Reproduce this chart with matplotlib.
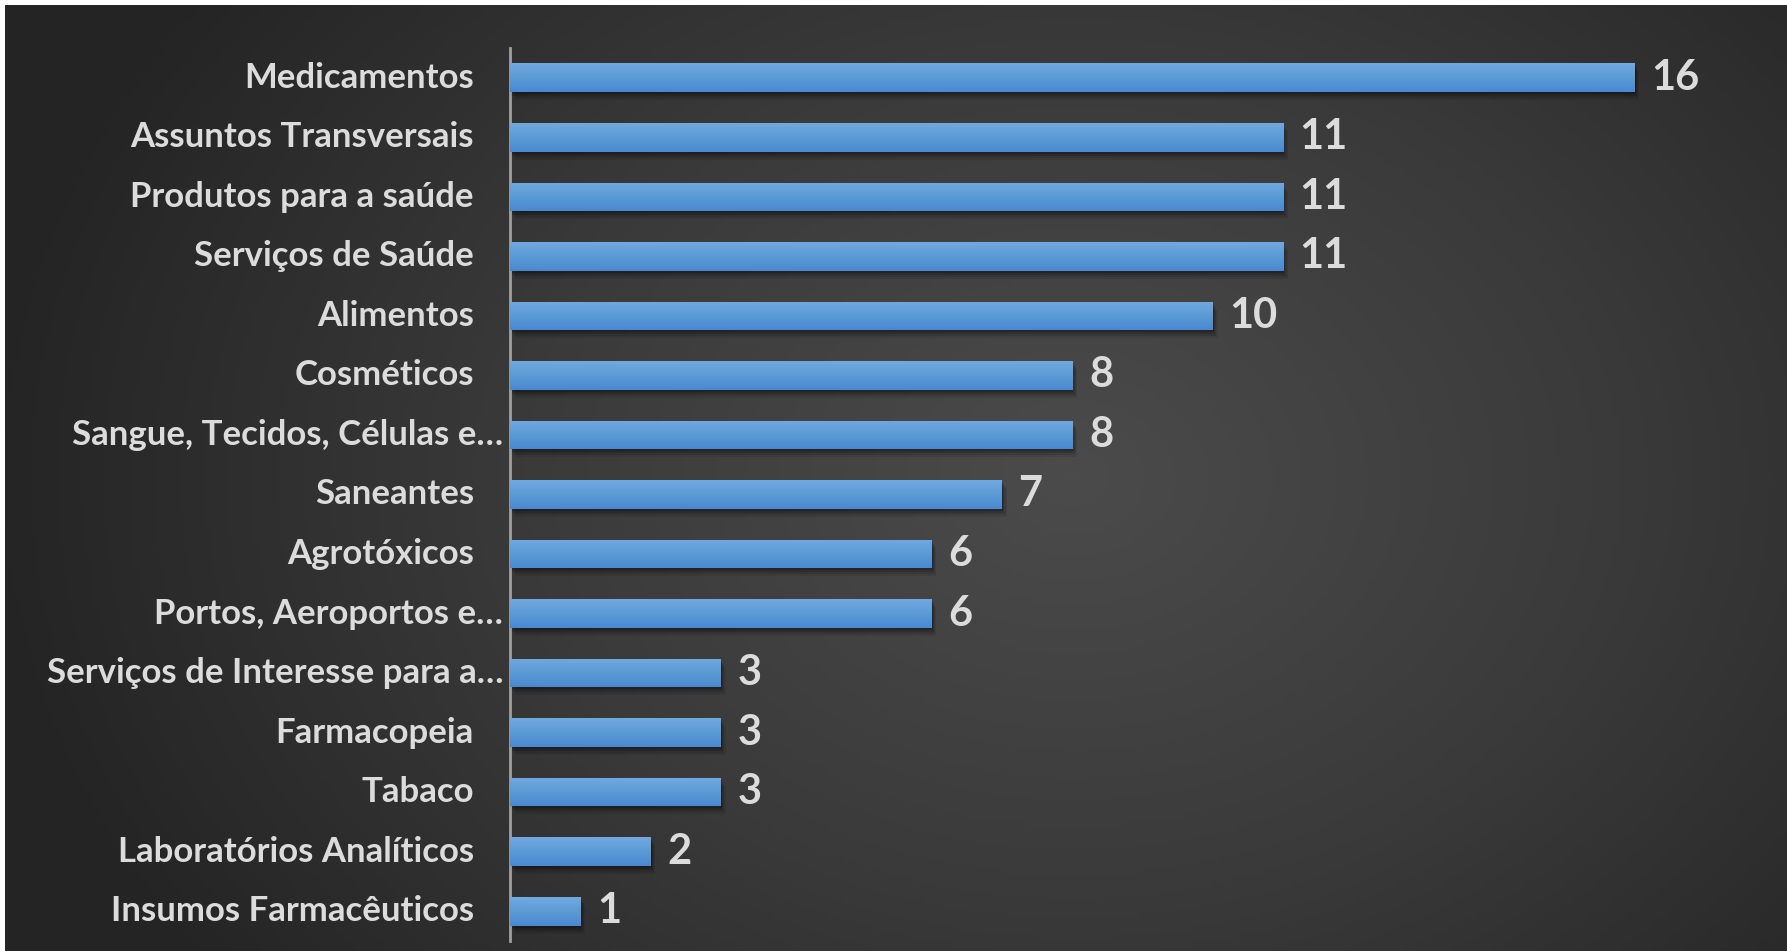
import numpy as np
import matplotlib
matplotlib.use("Agg")
import matplotlib.pyplot as plt
from matplotlib import transforms
from matplotlib.colors import LinearSegmentedColormap

plt.rcParams['font.family'] = ['Lato', 'DejaVu Sans']

categories = [
    "Medicamentos",
    "Assuntos Transversais",
    "Produtos para a saúde",
    "Serviços de Saúde",
    "Alimentos",
    "Cosméticos",
    "Sangue, Tecidos, Células e…",
    "Saneantes",
    "Agrotóxicos",
    "Portos, Aeroportos e…",
    "Serviços de Interesse para a…",
    "Farmacopeia",
    "Tabaco",
    "Laboratórios Analíticos",
    "Insumos Farmacêuticos",
]
values = [16, 11, 11, 11, 10, 8, 8, 7, 6, 6, 3, 3, 3, 2, 1]

W, H = 1787, 951
fig = plt.figure(figsize=(W / 100, H / 100), dpi=100, facecolor="white")

# dark radial background
bg = fig.add_axes([5 / W, 0, 1 - 5 / W, 1 - 5 / H])
bg.set_axis_off()
gx, gy = np.meshgrid(np.linspace(0, 1, 400), np.linspace(0, 1, 220))
d = np.sqrt(((gx - 0.6) * 1.3) ** 2 + ((gy - 0.5) * 0.9) ** 2)
d = np.clip(d / 0.8, 0, 1)
bg_cmap = LinearSegmentedColormap.from_list("bg", ["#4b4b4b", "#3a3a3a", "#242424"])
bg.imshow(d, cmap=bg_cmap, aspect="auto", extent=(0, 1, 0, 1), origin="lower")
bg.set_xlim(0, 1)
bg.set_ylim(0, 1)

ax = fig.add_axes([510 / W, 10 / H, (1775 - 510) / W, (941 - 48) / H])
ax.patch.set_alpha(0)
y = np.arange(len(categories))

# soft shadow under the bars
for k, a in [(8, 0.08), (6, 0.10), (4, 0.14), (2, 0.18)]:
    off = transforms.offset_copy(ax.transData, fig=fig, x=k * 0.6, y=-k, units="dots")
    ax.barh(y, values, height=0.48, color="black", alpha=a, transform=off, zorder=1)

bars = ax.barh(y, values, height=0.48, color="#5b9bd5", zorder=2)

bar_cmap = LinearSegmentedColormap.from_list("bar", ["#4a89d2", "#5b9bd5", "#72a9e0"])
grad = np.linspace(0, 1, 64).reshape(-1, 1)
for b in bars:
    x0, y0 = b.get_x(), b.get_y()
    im = ax.imshow(grad, cmap=bar_cmap, aspect="auto", origin="lower",
                   extent=(x0, x0 + b.get_width(), y0 + b.get_height(), y0), zorder=3)
    im.set_clip_path(b)

ax.bar_label(bars, labels=[str(v) for v in values], padding=12,
             color="#dcdcdc", fontsize=30, fontweight="bold", zorder=4)

ax.set_xlim(0, 18)
ax.set_ylim(len(categories) - 0.5, -0.5)
ax.set_aspect("auto")

for s in ["top", "right", "bottom"]:
    ax.spines[s].set_visible(False)
ax.spines["left"].set_color("#a0a0a0")
ax.spines["left"].set_linewidth(2)
ax.set_xticks([])
ax.set_yticks([])

lab_tr = transforms.blended_transform_factory(ax.transAxes, ax.transData)
for i, name in enumerate(categories):
    pad = -5 if name.endswith("…") else -26
    ax.annotate(name, xy=(0, i), xycoords=lab_tr, xytext=(pad, 0),
                textcoords="offset points", ha="right", va="center",
                color="#dcdcdc", fontsize=25, fontweight="bold")

fig.savefig("out.png", dpi=100, facecolor="white")
